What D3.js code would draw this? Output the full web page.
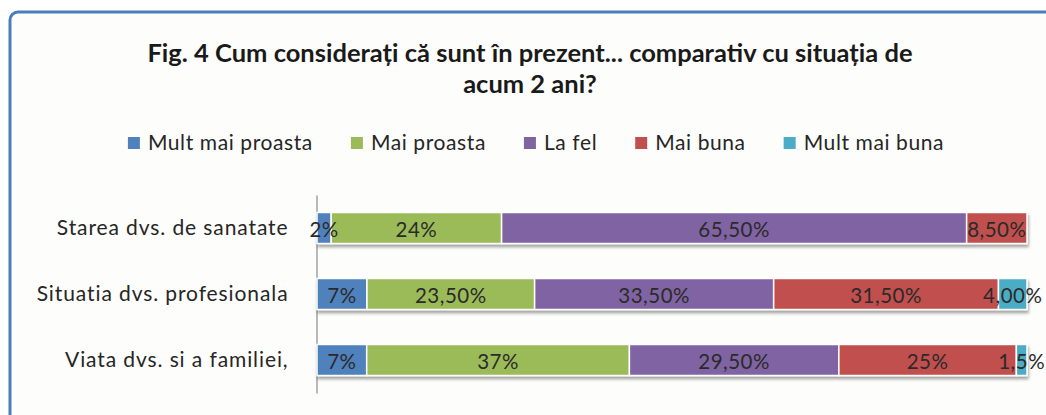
<!DOCTYPE html>
<html>
<head>
<meta charset="utf-8">
<script src="https://cdn.jsdelivr.net/npm/d3@7"></script>
<style>
  body { margin: 0; background: #ffffff; }
  svg { display: block; }
</style>
</head>
<body>
<div id="chart"></div>
<script>
// data
const titleLines = ["Fig. 4 Cum considerați că sunt în prezent... comparativ cu situația de", "acum 2 ani?"];
const categories = ["Starea dvs. de sanatate", "Situatia dvs. profesionala", "Viata dvs. si a familiei,"];
const seriesNames = ["Mult mai proasta", "Mai proasta", "La fel", "Mai buna", "Mult mai buna"];
const seriesColors = ["#4f81bd", "#9bbb59", "#8064a2", "#c0504d", "#4bacc6"];
// one array per series, one value per category (percent)
const multMaiProasta = [2, 7, 7];
const maiProasta = [24, 23.5, 37];
const laFel = [65.5, 33.5, 29.5];
const maiBuna = [8.5, 31.5, 25];
const multMaiBuna = [0, 4, 1.5];
// data labels as printed on the chart
const labelsMultMaiProasta = ["2%", "7%", "7%"];
const labelsMaiProasta = ["24%", "23,50%", "37%"];
const labelsLaFel = ["65,50%", "33,50%", "29,50%"];
const labelsMaiBuna = ["8,50%", "31,50%", "25%"];
const labelsMultMaiBuna = ["", "4,00%", "1,5%"];

const seriesValues = [multMaiProasta, maiProasta, laFel, maiBuna, multMaiBuna];
const seriesLabels = [labelsMultMaiProasta, labelsMaiProasta, labelsLaFel, labelsMaiBuna, labelsMultMaiBuna];

const width = 1046, height = 415;
const font = "Lato, 'Open Sans', sans-serif";

// build a table for d3.stack, normalised to 100% like the original
const table = categories.map((c, i) => {
    const row = { category: c };
    const total = d3.sum(seriesValues, s => s[i]);
    seriesNames.forEach((n, k) => { row[n] = seriesValues[k][i] / total; });
    return row;
});
const stacked = d3.stack().keys(seriesNames)(table);

const svg = d3.select("#chart").append("svg")
    .attr("width", width)
    .attr("height", height);

// drop shadow under the bars
const defs = svg.append("defs");
const shadow = defs.append("filter").attr("id", "barShadow")
    .attr("x", "-5%").attr("y", "-20%").attr("width", "110%").attr("height", "160%");
shadow.append("feDropShadow")
    .attr("dx", 1).attr("dy", 3).attr("stdDeviation", 1.4)
    .attr("flood-color", "#000").attr("flood-opacity", 0.35);

// chart frame (runs off the right and bottom of the picture)
svg.append("rect")
    .attr("x", 10).attr("y", 12)
    .attr("width", 1100).attr("height", 500)
    .attr("rx", 8)
    .attr("fill", "#fdfdfb")
    .attr("stroke", "#4a7ebb")
    .attr("stroke-width", 3);

// title
svg.append("g").selectAll("text")
    .data(titleLines)
    .join("text")
    .attr("x", 530)
    .attr("y", (d, i) => 62 + i * 31)
    .attr("text-anchor", "middle")
    .style("font-family", font)
    .style("font-weight", "bold")
    .style("font-size", "25.5px")
    .style("fill", "#1a1a1a")
    .text(d => d);

// scales
const x = d3.scaleLinear().domain([0, 1]).range([317, 1027]);
const y = d3.scaleBand().domain(categories).range([195, 393]).paddingInner(0.53).paddingOuter(0.265);
const color = d3.scaleOrdinal().domain(seriesNames).range(seriesColors);

// legend
const legend = svg.append("g").attr("transform", "translate(0,150)");
const items = legend.selectAll("g").data(seriesNames).join("g");
items.append("rect")
    .attr("y", -13).attr("width", 12).attr("height", 12)
    .attr("fill", d => color(d));
items.append("text")
    .attr("x", 20)
    .style("font-family", font)
    .style("font-size", "21px")
    .style("letter-spacing", "0.6px")
    .style("fill", "#262626")
    .text(d => d);
let lx = 0;
const itemX = [];
items.each(function () {
    itemX.push(lx);
    lx += this.getBBox().width + 38;
});
const legendW = lx - 38;
items.attr("transform", (d, i) => `translate(${536 - legendW / 2 + itemX[i]},0)`);

// y axis line and category labels
svg.append("g")
    .attr("transform", `translate(${x(0) - 0.5},0)`)
    .call(d3.axisLeft(y).tickSize(0).tickPadding(28))
    .call(g => g.select(".domain").attr("stroke", "#8c8c8c").attr("stroke-width", 1.2))
    .selectAll("text")
    .style("font-family", font)
    .style("font-size", "21px")
    .style("letter-spacing", "0.9px")
    .style("fill", "#262626");

// bars
const layers = svg.append("g").attr("filter", "url(#barShadow)")
    .selectAll("g")
    .data(stacked)
    .join("g")
    .attr("fill", d => color(d.key));

layers.selectAll("rect")
    .data(d => d)
    .join("rect")
    .attr("x", d => x(d[0]))
    .attr("y", d => y(d.data.category))
    .attr("width", d => Math.max(0, x(d[1]) - x(d[0])))
    .attr("height", y.bandwidth())
    .attr("stroke", "#ffffff")
    .attr("stroke-width", d => (d[1] - d[0]) > 0 ? 1.5 : 0);

// data labels
const labelData = [];
stacked.forEach((layer, k) => {
    layer.forEach((d, i) => {
        if (seriesLabels[k][i]) {
            labelData.push({ x0: d[0], x1: d[1], category: d.data.category, text: seriesLabels[k][i] });
        }
    });
});
svg.append("g").selectAll("text")
    .data(labelData)
    .join("text")
    .attr("x", d => x((d.x0 + d.x1) / 2))
    .attr("y", d => y(d.category) + y.bandwidth() / 2 + 1)
    .attr("text-anchor", "middle")
    .attr("dominant-baseline", "central")
    .style("font-family", font)
    .style("font-size", "20.5px")
    .style("letter-spacing", "0.5px")
    .style("fill", "#2a2a2a")
    .text(d => d.text);
</script>
</body>
</html>
